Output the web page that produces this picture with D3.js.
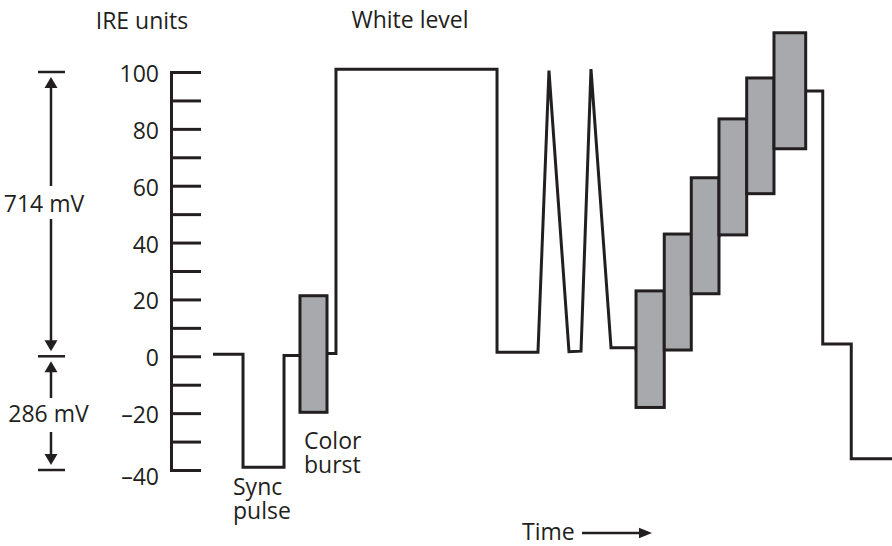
<!DOCTYPE html>
<html>
<head>
<meta charset="utf-8">
<script src="https://cdn.jsdelivr.net/npm/d3@7/dist/d3.min.js"></script>
<style>
  html, body { margin: 0; padding: 0; background: #fff; }
  svg { display: block; }
  text { font-family: "Open Sans", "Noto Sans", sans-serif; fill: #231f20; }
</style>
</head>
<body>
<svg id="chart" width="892" height="546"></svg>
<script>
// ---- data ----
const tickValues = [-40, -30, -20, -10, 0, 10, 20, 30, 40, 50, 60, 70, 80, 90, 100];
const tickLabels = ["\u201340", "", "\u201320", "", "0", "", "20", "", "40", "", "60", "", "80", "", "100"];

// waveform (time in arbitrary units 0..100, level in IRE)
const waveTime = [0, 4.42, 4.42, 10.46, 10.46, 12.81, 16.79, 18.11, 18.11, 41.83, 41.83, 47.86, 49.48, 52.43, 54.2, 55.67, 58.62, 62.3,
                  62.3, 66.46, 66.46, 70.44, 70.44, 74.52, 74.52, 78.6, 78.6, 82.62, 82.62, 87.29, 87.29, 89.8, 89.8, 94.0, 94.0, 100];
const waveIRE  = [0.7, 0.7, -39, -39, 0.3, 0.3, 1.0, 1.0, 101, 101, 1.4, 1.4, 100.5, 1.6, 1.8, 101, 3.0, 3.0,
                  2.5, 2.5, 22.6, 22.6, 42.4, 42.4, 63, 63, 77.5, 77.5, 93.4, 93.4, 93.3, 93.3, 4.3, 4.3, -36, -36];

// subcarrier packets (color burst + modulated staircase)
const pktStart = [12.81, 62.3, 66.46, 70.44, 74.52, 78.6, 82.62];
const pktEnd   = [16.79, 66.46, 70.44, 74.52, 78.6, 82.62, 87.29];
const pktHigh  = [21.3, 23, 43, 62.8, 83.5, 97.9, 113.8];
const pktLow   = [-19.7, -18, 2.2, 22, 42.7, 57.2, 73];

// dimension annotations
const dimLabels = ["714 mV", "286 mV"];
const dimTop = [100, 0];
const dimBottom = [0, -40];

// ---- layout ----
const ink = "#231f20";
const grey = "#a7a9ac";
const svg = d3.select("#chart");

const y = d3.scaleLinear().domain([-40, 100]).range([470, 72]);
const x = d3.scaleLinear().domain([0, 100]).range([213, 892]);

// y axis
const axisG = svg.append("g")
  .attr("transform", "translate(171,0)")
  .call(d3.axisLeft(y).tickValues(tickValues).tickSize(-30).tickPadding(12)
        .tickFormat((d, i) => tickLabels[i]));
axisG.attr("font-family", null).attr("font-size", null);
axisG.select(".domain").attr("stroke", ink).attr("stroke-width", 3).attr("fill", "none");
axisG.selectAll(".tick line").attr("stroke", ink).attr("stroke-width", 3);
axisG.selectAll(".tick text")
  .attr("font-size", 23)
  .attr("dy", d => d === -40 ? 14 : 9.5)
  .style("fill", ink);

// waveform
const pts = waveTime.map((t, i) => [t, waveIRE[i]]);
svg.append("path")
  .datum(pts)
  .attr("d", d3.line().x(d => x(d[0])).y(d => y(d[1])))
  .attr("fill", "none")
  .attr("stroke", ink)
  .attr("stroke-width", 3)
  .attr("stroke-linejoin", "miter");

// packets
svg.selectAll("rect.pkt")
  .data(pktStart.map((s, i) => ({ s, e: pktEnd[i], hi: pktHigh[i], lo: pktLow[i] })))
  .join("rect")
  .attr("class", "pkt")
  .attr("x", d => x(d.s))
  .attr("y", d => y(d.hi))
  .attr("width", d => x(d.e) - x(d.s))
  .attr("height", d => y(d.lo) - y(d.hi))
  .attr("fill", grey)
  .attr("stroke", ink)
  .attr("stroke-width", 3);

// dimension arrows on the left
const ax = 51;
function arrowHead(g, tipY, dir) { // dir -1 pointing up, +1 pointing down
  const len = 11, hw = 6.5;
  g.append("path")
    .attr("d", `M${ax},${tipY} L${ax - hw},${tipY - dir * len} L${ax + hw},${tipY - dir * len} Z`)
    .attr("fill", ink);
}
const dimG = svg.append("g");
[100, 0, -40].forEach(v => {
  dimG.append("line").attr("x1", 38).attr("x2", 65).attr("y1", y(v)).attr("y2", y(v))
    .attr("stroke", ink).attr("stroke-width", 2.5);
});
const labelY = [212, 422];
const gapTop = [186, 398];
const gapBot = [219, 432];
dimLabels.forEach((lab, i) => {
  const yt = y(dimTop[i]) + 5, yb = y(dimBottom[i]) - 5;
  dimG.append("line").attr("x1", ax).attr("x2", ax).attr("y1", yt + 8).attr("y2", gapTop[i])
    .attr("stroke", ink).attr("stroke-width", 2.5);
  arrowHead(dimG, yt, -1);
  dimG.append("line").attr("x1", ax).attr("x2", ax).attr("y1", gapBot[i]).attr("y2", yb - 8)
    .attr("stroke", ink).attr("stroke-width", 2.5);
  arrowHead(dimG, yb, 1);
  dimG.append("text").attr("x", i === 0 ? 44 : 48.5).attr("y", labelY[i])
    .attr("text-anchor", "middle").attr("font-size", 23).text(lab);
});

// text annotations
const txt = (s, xx, yy, anchor) => svg.append("text").attr("x", xx).attr("y", yy)
  .attr("text-anchor", anchor || "start").attr("font-size", 23).text(s);
const txt2 = (lines, xx, yy) => {
  const t = svg.append("text").attr("x", xx).attr("y", yy).attr("font-size", 23);
  lines.forEach((s, i) => t.append("tspan").attr("x", xx).attr("dy", i === 0 ? 0 : 24).text(s));
};
txt("IRE units", 142, 29, "middle");
txt("White level", 410, 28, "middle");
txt2(["Sync", "pulse"], 233, 495);
txt2(["Color", "burst"], 304, 449);
txt("Time", 522, 540);

// time arrow
svg.append("line").attr("x1", 582).attr("x2", 642).attr("y1", 533).attr("y2", 533)
  .attr("stroke", ink).attr("stroke-width", 2.5);
svg.append("path").attr("d", "M652,533 L639,527.8 L639,538.2 Z").attr("fill", ink);
</script>
</body>
</html>
